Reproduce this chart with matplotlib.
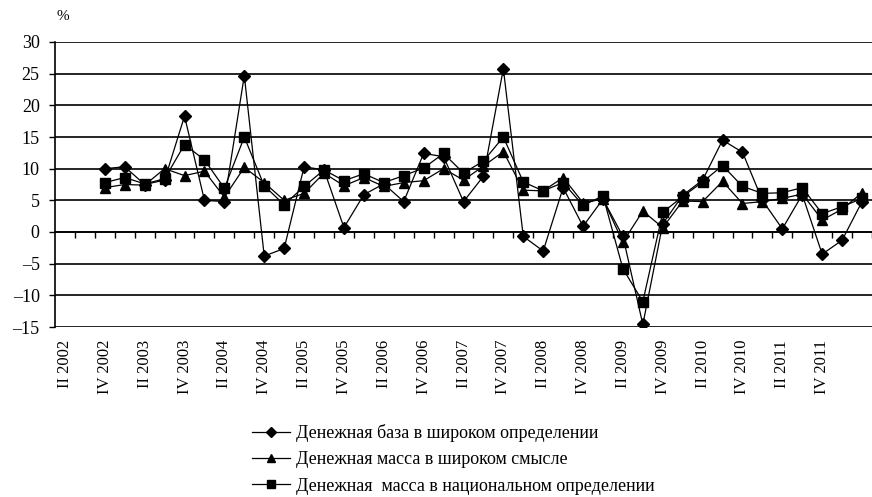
"""Monetary aggregates growth, quarterly (%)"""
import matplotlib.pyplot as plt
import numpy as np
from matplotlib.transforms import blended_transform_factory

plt.rcParams.update({
    'font.family': ['Liberation Serif', 'DejaVu Serif'],
    'font.size': 12,
})

# categories: quarters from II 2002 to II 2012 (index 0..40)
quarters = [f'{q} {y}' for y in range(2002, 2013) for q in ['I', 'II', 'III', 'IV']][1:42]
tick_labels = quarters[0:39:2]          # II 2002, IV 2002, ..., IV 2011

# data start at IV 2002
data_start = 2
base_broad = [10.0, 10.3, 7.5, 8.2, 18.3, 5.0, 4.8, 24.7, -3.8, -2.6,
              10.3, 9.8, 0.7, 5.9, 7.6, 4.8, 12.4, 11.9, 4.8, 8.8,
              25.8, -0.7, -3.0, 7.0, 0.9, 5.2, -0.7, -14.6, 1.3, 5.8,
              8.2, 14.5, 12.6, 5.0, 0.5, 5.9, -3.5, -1.3, 4.8]
m_broad = [7.0, 7.5, 7.4, 10.0, 8.9, 9.6, 5.5, 10.2, 7.8, 5.0,
           6.1, 9.3, 7.3, 8.6, 7.2, 7.8, 8.1, 10.0, 8.2, 10.4,
           12.7, 6.6, 6.5, 8.6, 4.6, 5.2, -1.6, 3.3, 0.7, 4.9,
           4.8, 8.0, 4.5, 4.8, 5.3, 6.0, 1.9, 3.6, 6.2]
m_national = [7.8, 8.6, 7.6, 8.4, 13.8, 11.4, 6.9, 15.0, 7.3, 4.3,
              7.2, 9.8, 8.1, 9.2, 7.8, 8.9, 10.1, 12.4, 9.3, 11.2,
              15.0, 7.9, 6.5, 7.8, 4.2, 5.7, -5.8, -11.0, 3.1, 5.6,
              7.9, 10.5, 7.2, 6.1, 6.2, 7.0, 2.9, 4.0, 5.3]

series_labels = ['Денежная база в широком определении',
                 'Денежная масса в широком смысле',
                 'Денежная  масса в национальном определении']

W, H = 872, 497
fig = plt.figure(figsize=(W / 100, H / 100), dpi=100)
ax = fig.add_axes([55 / W, 1 - 327 / H, 1 - 55 / W, (327 - 42) / H])

x = np.arange(data_start, data_start + len(base_broad))
ax.plot(x, base_broad, '-D', color='black', lw=0.9, ms=6.5, label=series_labels[0])
ax.plot(x, m_broad, '-^', color='black', lw=0.9, ms=7.5, label=series_labels[1])
ax.plot(x, m_national, '-s', color='black', lw=0.9, ms=7, label=series_labels[2])

ax.set_ylim(-15, 30)
ax.set_xlim(-0.5, 40.35)
yt = np.arange(-15, 31, 5)
ax.set_yticks(yt)
ax.set_yticklabels([str(v).replace('-', '–') for v in yt])
ax.yaxis.grid(True, color='black', lw=1.2)
ax.set_axisbelow(True)

# category axis crosses at zero, ticks between categories
ax.spines['bottom'].set_position(('data', 0))
ax.spines['bottom'].set_linewidth(1.2)
ax.spines['top'].set_visible(False)
ax.spines['right'].set_visible(False)
ax.spines['left'].set_linewidth(1.2)
ax.set_xticks(np.arange(0.5, 41, 1))
ax.tick_params(axis='x', direction='out', length=4, width=1, labelbottom=False)
ax.tick_params(axis='y', direction='out', length=4, width=1, pad=7, labelsize=13)

# quarter labels along the bottom edge
trans = blended_transform_factory(ax.transData, ax.transAxes)
for i, lab in enumerate(tick_labels):
    ax.text(i * 2, -0.045, lab, transform=trans, rotation=90,
            ha='center', va='top', fontsize=12)

fig.text(56 / W, 1 - 16 / H, '%', fontsize=11, ha='left', va='center')

fig.legend(loc='upper left', bbox_to_anchor=(252 / W, 1 - 424 / H),
           frameon=False, fontsize=13, handlelength=2.1, handletextpad=0.35,
           labelspacing=0.52, borderpad=0, borderaxespad=0, markerscale=0.8)

fig.savefig('out.png', dpi=100)
